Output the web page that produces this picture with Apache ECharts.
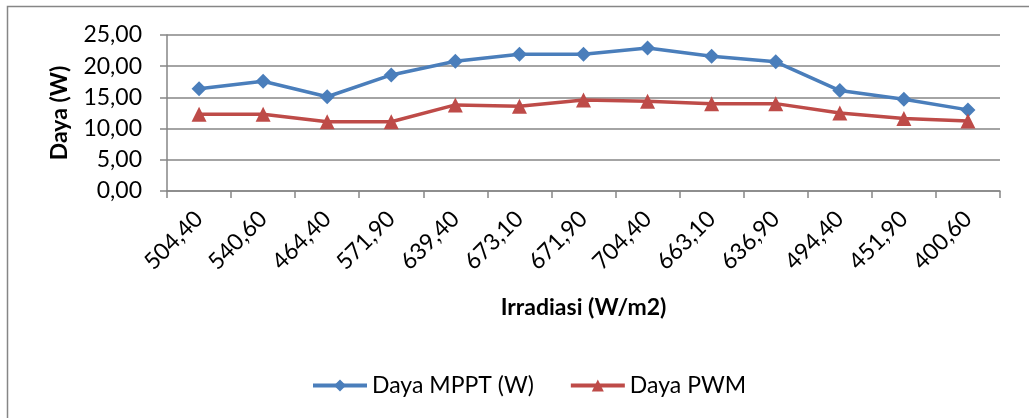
<!DOCTYPE html>
<html>
<head>
<meta charset="utf-8">
<script src="https://cdn.jsdelivr.net/npm/echarts@6/dist/echarts.min.js"></script>
<style>
html,body{margin:0;padding:0;background:#fff;}
#chart{width:1029px;height:418px;}
</style>
</head>
<body>
<div id="chart"></div>
<script>
var categories = ['504,40','540,60','464,40','571,90','639,40','673,10','671,90','704,40','663,10','636,90','494,40','451,90','400,60'];
var mpptValues = [16.4, 17.6, 15.1, 18.6, 20.8, 21.9, 21.9, 22.9, 21.6, 20.7, 16.1, 14.7, 13.0];
var pwmValues  = [12.3, 12.3, 11.1, 11.1, 13.8, 13.6, 14.6, 14.4, 14.0, 14.0, 12.5, 11.6, 11.2];
var seriesNames = ['Daya MPPT (W)', 'Daya PWM'];
var yTicks = [0, 5, 10, 15, 20, 25];

var FONT = 'Lato';
var GRAY = '#868686';
var chart = echarts.init(document.getElementById('chart'), null, {renderer:'canvas'});
chart.setOption({
  animation: false,
  backgroundColor: '#fff',
  graphic: [{
    type: 'rect',
    shape: {x: 7.5, y: 6.5, width: 1100, height: 1000},
    style: {fill: 'none', stroke: GRAY, lineWidth: 1.5},
    silent: true
  }],
  grid: {left: 167, right: 29, top: 35, bottom: 227, containLabel: false},
  legend: {
    data: seriesNames,
    left: 306,
    top: 369,
    itemWidth: 54,
    itemHeight: 15,
    itemGap: 35,
    lineStyle: {width: 4},
    textStyle: {fontFamily: FONT, fontSize: 23, color: '#000'}
  },
  xAxis: {
    type: 'category',
    data: categories,
    boundaryGap: true,
    name: 'Irradiasi (W/m2)',
    nameLocation: 'middle',
    nameGap: 105,
    nameTextStyle: {fontFamily: FONT, fontSize: 23, fontWeight: 'bold', color: '#000'},
    axisLine: {show: true, lineStyle: {color: GRAY, width: 1.5}},
    axisTick: {show: true, length: 7, lineStyle: {color: GRAY, width: 1.5}},
    axisLabel: {rotate: 45, margin: 24, interval: 0, fontFamily: FONT, fontSize: 23, color: '#000'},
    splitLine: {show: false}
  },
  yAxis: {
    type: 'value',
    min: yTicks[0],
    max: yTicks[yTicks.length - 1],
    interval: 5,
    name: 'Daya (W)',
    nameLocation: 'middle',
    nameGap: 96,
    nameTextStyle: {fontFamily: FONT, fontSize: 23, fontWeight: 'bold', color: '#000'},
    axisLine: {show: true, lineStyle: {color: GRAY, width: 1.5}},
    axisTick: {show: true, length: 7, lineStyle: {color: GRAY, width: 1.5}},
    axisLabel: {
      margin: 25, fontFamily: FONT, fontSize: 23, color: '#000',
      formatter: function (v) { return v.toFixed(2).replace('.', ','); }
    },
    splitLine: {show: true, lineStyle: {color: GRAY, width: 1.5}}
  },
  series: [{
    name: seriesNames[0],
    type: 'line',
    data: mpptValues,
    symbol: 'diamond',
    symbolSize: 15,
    color: '#4A7EBB',
    lineStyle: {width: 3.5, color: '#4A7EBB'},
    itemStyle: {color: '#4A7EBB'}
  }, {
    name: seriesNames[1],
    type: 'line',
    data: pwmValues,
    symbol: 'triangle',
    symbolSize: 15,
    color: '#BE4B48',
    lineStyle: {width: 3.5, color: '#BE4B48'},
    itemStyle: {color: '#BE4B48'}
  }]
});
</script>
</body>
</html>
